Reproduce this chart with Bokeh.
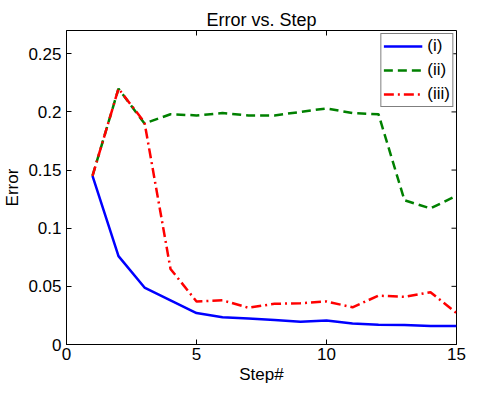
import math
from bokeh.plotting import figure
from bokeh.models import FixedTicker, Legend, LegendItem, Range1d
from bokeh.embed import file_html
from bokeh.resources import INLINE

steps = list(range(1, 16))
err_i = [0.145, 0.076, 0.049, 0.038, 0.027, 0.0235, 0.0224, 0.021, 0.0195, 0.0207, 0.018, 0.017, 0.0167, 0.016, 0.016]
err_ii = [0.145, 0.220, 0.190, 0.198, 0.197, 0.199, 0.197, 0.197, 0.200, 0.203, 0.199, 0.198, 0.124, 0.117, 0.128]
err_iii = [0.145, 0.220, 0.191, 0.065, 0.037, 0.038, 0.0316, 0.035, 0.0355, 0.037, 0.032, 0.042, 0.041, 0.045, 0.027]
labels = ["(i)", "(ii)", "(iii)"]
x_ticks = [0, 5, 10, 15]
y_ticks = [0, 0.05, 0.1, 0.15, 0.2, 0.25]
y_tick_labels = ["0", "0.05", "0.1", "0.15", "0.2", "0.25"]
x_max = 15
y_max = 0.27

FONT = "Liberation Sans"
FS = "17px"

p = figure(frame_width=390, frame_height=314, output_backend="svg", toolbar_location=None,
           x_range=Range1d(0, x_max), y_range=Range1d(0, y_max),
           min_border_left=63, min_border_right=32, min_border_top=30, min_border_bottom=40,
           title="Error vs. Step")
p.title.align = "center"
p.title.text_font = FONT
p.title.text_font_size = "18px"
p.title.text_font_style = "normal"
p.title.text_color = "black"
p.title.standoff = 2
p.background_fill_color = "white"
p.border_fill_color = "white"
p.outline_line_color = "black"
p.outline_line_width = 1
p.grid.visible = False

for ax in (p.xaxis[0], p.yaxis[0]):
    ax.major_tick_in = 5
    ax.major_tick_out = 0
    ax.minor_tick_in = 0
    ax.minor_tick_out = 0
    ax.major_label_text_font = FONT
    ax.major_label_text_font_size = FS
    ax.major_label_text_color = "black"
    ax.axis_label_text_font = FONT
    ax.axis_label_text_font_size = FS
    ax.axis_label_text_font_style = "normal"
    ax.axis_label_text_color = "black"
    ax.axis_line_color = "black"
    ax.major_tick_line_color = "black"

p.xaxis.ticker = FixedTicker(ticks=x_ticks)
p.yaxis.ticker = FixedTicker(ticks=y_ticks)
p.yaxis.major_label_overrides = {t: l for t, l in zip(y_ticks, y_tick_labels)}
p.xaxis.axis_label = "Step#"
p.yaxis.axis_label = "Error"
p.xaxis.axis_label_standoff = 2
p.yaxis.axis_label_standoff = 3
p.xaxis.major_label_standoff = 3
p.yaxis.major_label_standoff = 5

# inward ticks on the top and right edges of the box
p.ray(x=x_ticks, y=[y_max] * len(x_ticks), length=5, length_units="screen",
      angle=-math.pi / 2, line_color="black", line_width=1)
p.ray(x=[x_max] * len(y_ticks), y=y_ticks, length=5, length_units="screen",
      angle=math.pi, line_color="black", line_width=1)

r1 = p.line(steps, err_i, line_color="#0000ff", line_width=2.5)
r2 = p.line(steps, err_ii, line_color="#008000", line_width=2.5, line_dash="9 5")
r3 = p.line(steps, err_iii, line_color="#ff0000", line_width=2.5, line_dash="10 4 2 4")

legend = Legend(items=[LegendItem(label=labels[0], renderers=[r1]),
                       LegendItem(label=labels[1], renderers=[r2]),
                       LegendItem(label=labels[2], renderers=[r3])],
                location="top_right", border_line_color="black", border_line_width=1,
                label_text_font=FONT, label_text_font_size=FS, label_text_color="black",
                glyph_width=39, glyph_height=20, spacing=4, padding=2, margin=3,
                label_standoff=5, background_fill_alpha=1.0)
p.add_layout(legend)

open("out.html", "w").write(file_html(p, INLINE))
